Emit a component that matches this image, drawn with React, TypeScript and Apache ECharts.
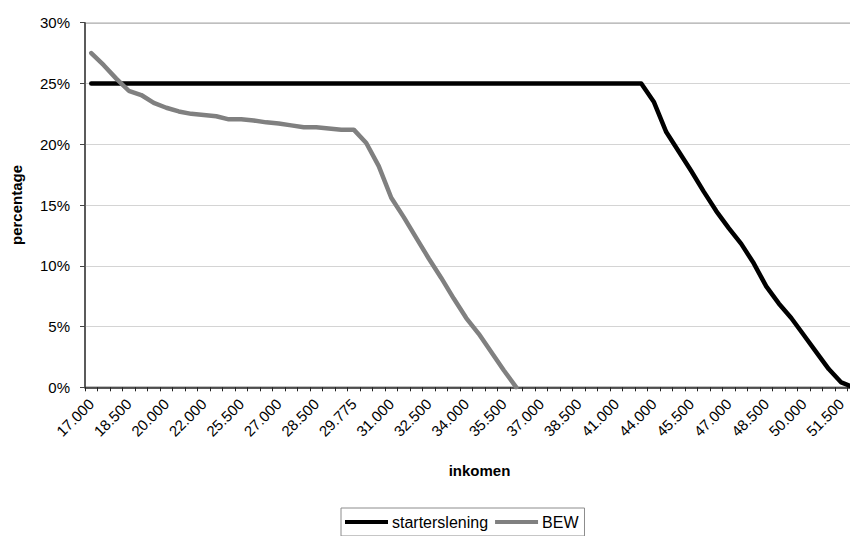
import React, { useEffect, useRef } from "react";
import * as echarts from "echarts";

const categories: string[] = [
  "17.000", "17.500", "18.000", "18.500", "19.000", "19.500", "20.000", "20.500", "21.500",
  "22.000", "23.000", "24.000", "25.500", "26.000", "26.500", "27.000", "27.500", "28.000",
  "28.500", "29.000", "29.500", "29.775", "30.000", "30.500", "31.000", "31.500", "32.000",
  "32.500", "33.000", "33.500", "34.000", "34.500", "35.000", "35.500", "36.000", "36.500",
  "37.000", "37.500", "38.000", "38.500", "39.000", "40.000", "41.000", "42.000", "43.000",
  "44.000", "44.500", "45.000", "45.500", "46.000", "46.500", "47.000", "47.500", "48.000",
  "48.500", "49.000", "49.500", "50.000", "50.500", "51.000", "51.500", "52.000",
];

const starterslening: (number | null)[] = [
  25, 25, 25, 25, 25, 25, 25, 25, 25, 25,
  25, 25, 25, 25, 25, 25, 25, 25, 25, 25,
  25, 25, 25, 25, 25, 25, 25, 25, 25, 25,
  25, 25, 25, 25, 25, 25, 25, 25, 25, 25,
  25, 25, 25, 25, 25,
  23.5, 21.0, 19.4, 17.8, 16.1, 14.5, 13.1, 11.8, 10.2, 8.3,
  6.9, 5.7, 4.3, 2.9, 1.5, 0.4, 0,
];

const bew: (number | null)[] = [
  27.5, 26.5, 25.4, 24.4, 24.05, 23.4, 23.0, 22.7, 22.5, 22.4,
  22.3, 22.05, 22.05, 21.95, 21.8, 21.7, 21.55, 21.4, 21.4, 21.3,
  21.2, 21.2, 20.1, 18.2, 15.6, 14.0, 12.3, 10.6, 9.0, 7.3,
  5.7, 4.4, 2.9, 1.4, 0,
  null, null, null, null, null, null, null, null, null, null,
  null, null, null, null, null, null, null, null, null, null,
  null, null, null, null, null, null, null,
];

const yTicks = { min: 0, max: 30, interval: 5 };

const FONT = "'Liberation Sans', Arial, sans-serif";

export default function App() {
  const ref = useRef<HTMLDivElement>(null);
  useEffect(() => {
    if (!ref.current) return;
    const chart = echarts.init(ref.current, undefined, { renderer: "svg" });
    chart.setOption({
      animation: false,
      backgroundColor: "#ffffff",
      textStyle: { fontFamily: FONT },
      grid: {
        left: 85,
        top: 22.7,
        bottom: 148.7,
        right: -10,
        show: true,
        borderColor: "#808080",
        borderWidth: 1.5,
        containLabel: false,
        outerBoundsMode: "none",
      },
      legend: {
        left: 341,
        top: 508,
        orient: "horizontal",
        icon: "rect",
        borderColor: "#8c8c8c",
        borderWidth: 1,
        padding: [6, 6, 6, 4],
        itemWidth: 43,
        itemHeight: 4,
        itemGap: 7,
        textStyle: { fontSize: 16, color: "#000", fontFamily: FONT, padding: [0, 0, 0, -1] },
        data: ["starterslening", "BEW"],
      },
      xAxis: {
        type: "category",
        data: categories,
        boundaryGap: true,
        name: "inkomen",
        nameLocation: "middle",
        nameGap: 76,
        nameTextStyle: { fontSize: 15, fontWeight: "bold", color: "#000", fontFamily: FONT, padding: [0, 0, 0, 14] },
        axisLine: { show: true, lineStyle: { color: "#222", width: 1.5 } },
        axisTick: { show: true, interval: 0, length: 4, inside: false, lineStyle: { color: "#222" } },
        axisLabel: {
          interval: 2,
          rotate: 45,
          margin: 14,
          fontSize: 15,
          color: "#000",
          fontFamily: FONT,
        },
        splitLine: { show: false },
      },
      yAxis: {
        type: "value",
        min: yTicks.min,
        max: yTicks.max,
        interval: yTicks.interval,
        name: "percentage",
        nameLocation: "middle",
        nameGap: 61,
        nameRotate: 90,
        nameTextStyle: { fontSize: 15, fontWeight: "bold", color: "#000", fontFamily: FONT },
        axisLine: { show: true, lineStyle: { color: "#444", width: 1.5 } },
        axisTick: { show: true, length: 5, inside: false, lineStyle: { color: "#444" } },
        axisLabel: {
          formatter: "{value}%",
          margin: 15,
          fontSize: 15,
          color: "#000",
          fontFamily: FONT,
        },
        splitLine: { show: true, lineStyle: { color: "#d4d4d4", width: 1.2 } },
      },
      series: [
        {
          name: "starterslening",
          type: "line",
          data: starterslening,
          symbol: "none",
          lineStyle: { color: "#000000", width: 4.5, cap: "round", join: "round" },
          itemStyle: { color: "#000000" },
          emphasis: { disabled: true },
        },
        {
          name: "BEW",
          type: "line",
          data: bew,
          symbol: "none",
          connectNulls: false,
          lineStyle: { color: "#808080", width: 4.5, cap: "round", join: "round" },
          itemStyle: { color: "#808080" },
          emphasis: { disabled: true },
        },
      ],
    });
    return () => chart.dispose();
  }, []);
  return (
    <div
      ref={ref}
      style={{ position: "absolute", left: 0, top: 0, width: 850, height: 536, overflow: "hidden" }}
    />
  );
}
